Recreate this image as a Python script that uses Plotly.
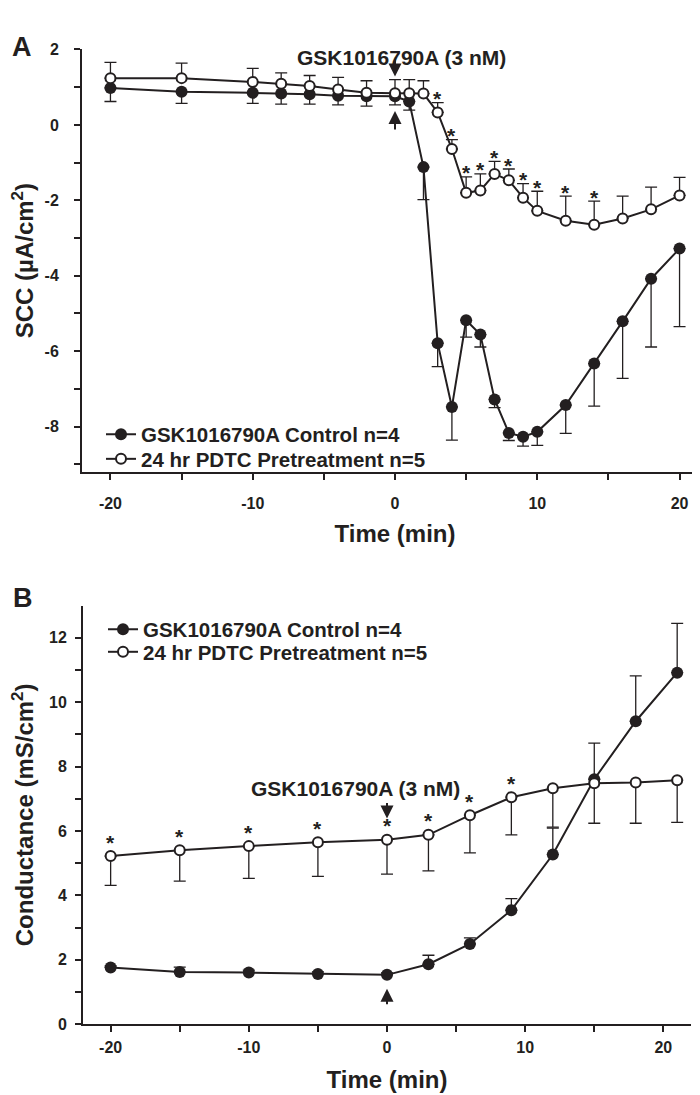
import plotly.graph_objects as go

INK = "#231f20"
FONT = "Arial, Liberation Sans, sans-serif"

# ---- panel A: short-circuit current (SCC, uA/cm2) ----
a_time = [-20, -15, -10, -8, -6, -4, -2, 0, 1, 2, 3, 4, 5, 6, 7, 8, 9, 10, 12, 14, 16, 18, 20]
a_ctrl = [0.98, 0.88, 0.85, 0.83, 0.81, 0.77, 0.76, 0.76, 0.62, -1.12, -5.79, -7.48, -5.18,
          -5.56, -7.28, -8.17, -8.27, -8.14, -7.43, -6.33, -5.21, -4.08, -3.28]
a_ctrl_err = [0.36, 0.31, 0.28, 0.28, 0.26, 0.24, 0.26, 0.23, 0.23, 0.86, 0.62, 0.88, 0.45,
              0.33, 0.22, 0.20, 0.25, 0.36, 0.75, 1.13, 1.51, 1.81, 2.07]
a_pdtc = [1.24, 1.24, 1.14, 1.09, 1.03, 0.94, 0.85, 0.84, 0.84, 0.83, 0.33, -0.64, -1.80,
          -1.74, -1.30, -1.47, -1.93, -2.28, -2.54, -2.65, -2.48, -2.24, -1.87]
a_pdtc_err = [0.42, 0.40, 0.36, 0.29, 0.28, 0.32, 0.32, 0.36, 0.36, 0.34, 0.26, 0.25, 0.42,
              0.44, 0.33, 0.30, 0.37, 0.52, 0.65, 0.63, 0.59, 0.59, 0.48]
a_star_times = [3, 4, 5, 6, 7, 8, 9, 10, 12, 14]

# ---- panel B: conductance (mS/cm2) ----
b_time = [-20, -15, -10, -5, 0, 3, 6, 9, 12, 15, 18, 21]
b_ctrl = [1.76, 1.62, 1.60, 1.56, 1.53, 1.86, 2.49, 3.54, 5.27, 7.61, 9.41, 10.92]
b_ctrl_err = [0.05, 0.15, 0.08, 0.06, 0.06, 0.28, 0.19, 0.36, 0.82, 1.12, 1.41, 1.53]
b_pdtc = [5.22, 5.40, 5.53, 5.65, 5.73, 5.88, 6.49, 7.05, 7.33, 7.48, 7.51, 7.58]
b_pdtc_err = [0.91, 0.96, 1.00, 1.06, 1.07, 1.12, 1.17, 1.17, 1.21, 1.24, 1.27, 1.31]
b_star_times = [-20, -15, -10, -5, 0, 3, 6, 9]

ctrl_name = "GSK1016790A Control n=4"
pdtc_name = "24 hr PDTC Pretreatment n=5"
drug_label = "GSK1016790A (3 nM)"

x_ticks = [-20, -10, 0, 10, 20]
x_ticktext = ["-20", "-10", "0", "10", "20"]
x_minor = [-15, -5, 5, 15]
a_yticks = [-8, -6, -4, -2, 0, 2]
a_yticktext = ["-8", "-6", "-4", "-2", "0", "2"]
a_yminor = [-9, -7, -5, -3, -1, 1]
b_yticks = [0, 2, 4, 6, 8, 10, 12]
b_yticktext = ["0", "2", "4", "6", "8", "10", "12"]
b_yminor = [1, 3, 5, 7, 9, 11]

fig = go.Figure()


def err(vals, up):
    zeros = [0] * len(vals)
    return dict(type="data", symmetric=False, array=vals if up else zeros,
                arrayminus=zeros if up else vals, color=INK, thickness=1.3, width=6)


def add_series(x, y, e, up, filled, name, xa, ya, leg):
    marker = dict(size=12, color=INK, line=dict(width=0)) if filled else \
        dict(size=10, color="white", line=dict(width=2, color=INK))
    fig.add_trace(go.Scatter(x=x, y=y, mode="lines+markers", name=name,
                             line=dict(color=INK, width=2), marker=marker,
                             error_y=err(e, up), xaxis=xa, yaxis=ya, legend=leg,
                             showlegend=True, cliponaxis=False))


# one legend per entry so each row can sit where the original has it
add_series(a_time, a_ctrl, a_ctrl_err, False, True, ctrl_name, "x", "y", "legend")
add_series(a_time, a_pdtc, a_pdtc_err, True, False, pdtc_name, "x", "y", "legend2")
add_series(b_time, b_ctrl, b_ctrl_err, True, True, ctrl_name, "x2", "y2", "legend3")
add_series(b_time, b_pdtc, b_pdtc_err, False, False, pdtc_name, "x2", "y2", "legend4")

star_font = dict(family=FONT, size=21, color=INK, weight="bold")
# stars above the PDTC error bars (A) and above the PDTC points (B)
for t, v, e in zip(a_time, a_pdtc, a_pdtc_err):
    if t in a_star_times:
        fig.add_annotation(x=t, y=v + e, xref="x", yref="y", text="*", showarrow=False,
                           font=star_font, yshift=4)
for t, v in zip(b_time, b_pdtc):
    if t in b_star_times:
        fig.add_annotation(x=t, y=v, xref="x2", yref="y2", text="*", showarrow=False,
                           font=star_font, yshift=14)

label_font = dict(family=FONT, size=21, color=INK, weight="bold")
arrow = dict(showarrow=True, arrowhead=2, arrowsize=1.3, arrowwidth=2, arrowcolor=INK,
             text="", ax=0)
# panel A arrows at drug addition (t = 0)
fig.add_annotation(x=0, y=1.28, xref="x", yref="y", ay=-19, **arrow)
fig.add_annotation(x=0, y=0.37, xref="x", yref="y", ay=20, **arrow)
fig.add_annotation(x=0, y=1 - 28 / 1095, xref="x", yref="paper", text=drug_label,
                   showarrow=False, font=label_font, xshift=6)
# panel B arrows
fig.add_annotation(x=0, y=6.39, xref="x2", yref="y2", ay=-17, **arrow)
fig.add_annotation(x=0, y=1.10, xref="x2", yref="y2", ay=17, **arrow)
fig.add_annotation(x=0, y=7.31, xref="x2", yref="y2", text=drug_label, showarrow=False,
                   font=label_font, xshift=-32)

panel_font = dict(family=FONT, size=27, color=INK, weight="bold")
fig.add_annotation(x=2 / 700, y=1 - 14 / 1095, xref="paper", yref="paper", text="A",
                   showarrow=False, font=panel_font, xanchor="left")
fig.add_annotation(x=3 / 700, y=1 - 591 / 1095, xref="paper", yref="paper", text="B",
                   showarrow=False, font=panel_font, xanchor="left")

tick_font = dict(family=FONT, size=16, color=INK, weight="bold")
title_font = dict(family=FONT, size=24, color=INK, weight="bold")


def axis(**kw):
    base = dict(showline=True, linewidth=2, linecolor=INK, showgrid=False, zeroline=False,
                ticks="outside", ticklen=6, tickwidth=1.5, tickcolor=INK, tickfont=tick_font,
                tickmode="array")
    base.update(kw)
    return base


def minor(vals):
    return dict(tickvals=vals, ticks="outside", ticklen=6, tickwidth=1.5, tickcolor=INK)


def legend_at(px_x, px_y):
    return dict(x=px_x / 700, y=1 - px_y / 1095, xanchor="left", yanchor="middle",
                font=dict(family=FONT, size=20.5, color=INK, weight="bold"),
                bgcolor="rgba(0,0,0,0)")


fig.update_layout(
    width=700, height=1095, margin=dict(l=0, r=0, t=0, b=0), showlegend=True,
    paper_bgcolor="white", plot_bgcolor="white", font=dict(family=FONT, color=INK),
    xaxis=axis(domain=[74 / 700, 1.0], range=[-22, 22], anchor="y", tickvals=x_ticks,
               ticktext=x_ticktext, minor=minor(x_minor), ticklabelstandoff=10,
               title=dict(text="Time (min)", font=title_font, standoff=14)),
    yaxis=axis(domain=[1 - 463 / 1095, 1 - 34 / 1095], range=[-9.2, 2], anchor="x",
               tickvals=a_yticks, ticktext=a_yticktext, minor=minor(a_yminor),
               ticklabelstandoff=12,
               title=dict(text="SCC (\u00b5A/cm<sup>2</sup>)", font=title_font, standoff=10)),
    xaxis2=axis(domain=[75 / 700, 683 / 700], range=[-22, 22], anchor="y2", tickvals=x_ticks,
                ticktext=x_ticktext, minor=minor(x_minor), ticklabelstandoff=2,
                title=dict(text="Time (min)", font=title_font, standoff=16)),
    yaxis2=axis(domain=[1 - 1024 / 1095, 1 - 599 / 1095], range=[0, 13], anchor="x2",
                tickvals=b_yticks, ticktext=b_yticktext, minor=minor(b_yminor),
                ticklabelstandoff=5,
                title=dict(text="Conductance (mS/cm<sup>2</sup>)", font=title_font,
                           standoff=10)),
    legend=legend_at(93, 425),
    legend2=legend_at(93, 450),
    legend3=legend_at(95, 623),
    legend4=legend_at(95, 646),
)

fig.write_html("out.html")
